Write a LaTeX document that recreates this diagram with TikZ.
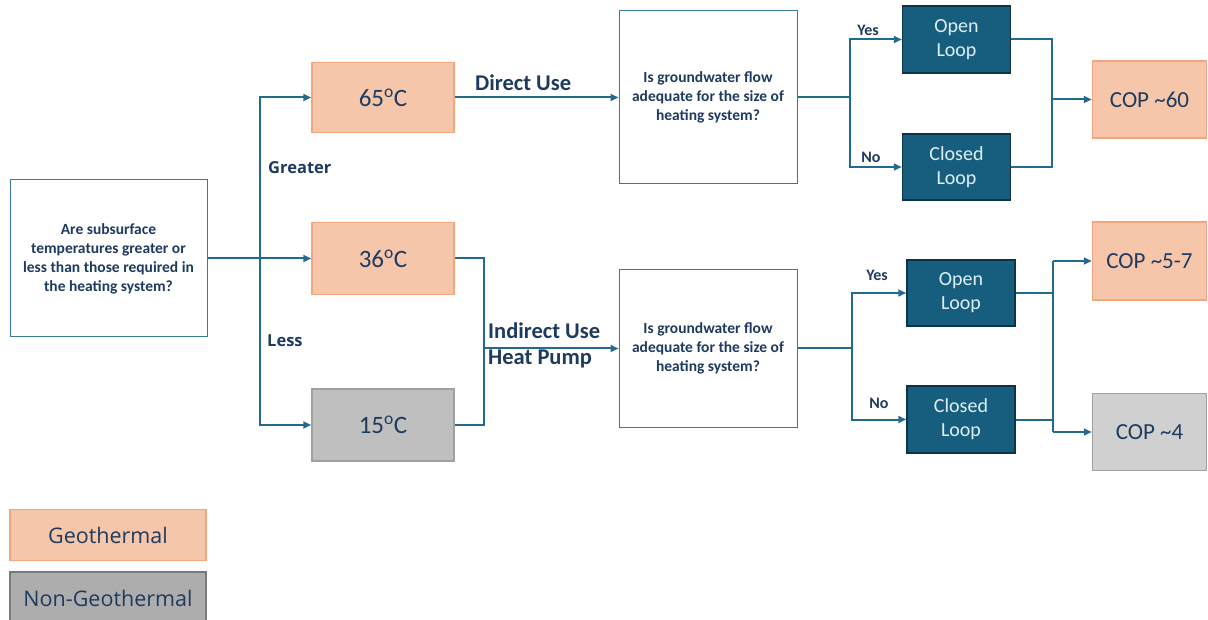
\documentclass[tikz,border=0pt]{standalone}
\usepackage{fontspec}
\setmainfont{Carlito}
\newfontfamily\legf{Open Sans}
\usetikzlibrary{arrows.meta}
\definecolor{ln}{RGB}{35,107,142}
\definecolor{txt}{RGB}{31,58,95}
\definecolor{orf}{RGB}{246,198,171}
\definecolor{ord}{RGB}{242,167,127}
\definecolor{grf}{RGB}{191,191,191}
\definecolor{grd}{RGB}{160,160,160}
\definecolor{lgf}{RGB}{208,208,208}
\definecolor{dkf}{RGB}{23,94,126}
\definecolor{dkd}{RGB}{13,51,70}
\definecolor{qbd}{RGB}{58,122,153}
\definecolor{ngf}{RGB}{173,173,173}
\definecolor{ngd}{RGB}{122,122,122}
\definecolor{wt}{RGB}{221,239,247}
\begin{document}
\begin{tikzpicture}[x=1pt,y=-1pt,
  line/.style={draw=ln, line width=2pt},
  arr/.style={line, -{Triangle[length=8pt,width=7pt]}},
  qbox/.style={draw=qbd, line width=1pt, fill=white, text=txt, align=center, inner sep=0pt,
     font=\bfseries\fontsize{15.5}{19}\selectfont},
  tbox/.style={draw=ord, line width=1.5pt, fill=orf, text=txt, inner sep=0pt,
     font=\fontsize{25}{28}\selectfont, minimum width=142pt},
  gbox/.style={tbox, draw=grd, fill=grf},
  dbox/.style={draw=dkd, line width=1.5pt, fill=dkf, text=wt, align=center, inner sep=0pt,
     font=\fontsize{20}{24}\selectfont, minimum width=108pt},
  cbox/.style={tbox, minimum width=114pt, font=\fontsize{23}{26}\selectfont},
  lbl/.style={text=txt, font=\bfseries\fontsize{22.5}{26}\selectfont, inner sep=0pt},
  yn/.style={text=txt, font=\bfseries\fontsize{16}{18}\selectfont, inner sep=0pt},
  gl/.style={text=txt, font=\legf\bfseries\fontsize{16.5}{18}\selectfont, inner sep=0pt},
  leg/.style={draw=ord, line width=1.5pt, fill=orf, text=txt, inner sep=0pt,
     font=\legf\fontsize{21.5}{25}\selectfont, minimum width=196pt}
]
\useasboundingbox (0,0) rectangle (1208,620);

% nodes
\node[qbox, minimum width=197pt, minimum height=157pt] (q0) at (108.5,258.5)
  {Are subsurface\\temperatures greater or\\less than those required in\\the heating system?};
\node[tbox, minimum height=70pt] (t65) at (383,97.5) {65\textsuperscript{o}C};
\node[tbox, minimum height=72pt] (t36) at (383,258.5) {36\textsuperscript{o}C};
\node[gbox, minimum height=72pt] (t15) at (383,425) {15\textsuperscript{o}C};
\node[qbox, minimum width=178pt, minimum height=173pt] (q1) at (708,97.5)
  {Is groundwater flow\\adequate for the size of\\heating system?};
\node[qbox, minimum width=178pt, minimum height=157pt] (q2) at (708,348.5)
  {Is groundwater flow\\adequate for the size of\\heating system?};
\node[dbox, minimum height=67pt] (ol1) at (956.5,39.5) {Open\\Loop};
\node[dbox, minimum height=66pt] (cl1) at (956.5,167) {Closed\\Loop};
\node[dbox, minimum height=66pt] (ol2) at (961,293) {Open\\Loop};
\node[dbox, minimum height=67pt] (cl2) at (961,419.5) {Closed\\Loop};
\node[cbox, minimum height=77pt] (cop60) at (1149.5,99.5) {COP \textasciitilde60};
\node[cbox, minimum height=78pt] (cop57) at (1149.5,261) {COP \textasciitilde5-7};
\node[cbox, draw=grd, fill=lgf, minimum height=77pt] (cop4) at (1149.5,432) {COP \textasciitilde4};

\node[leg, minimum height=51pt] (leg1) at (108,535) {Geothermal};
\node[leg, draw=ngd, fill=ngf, minimum height=52pt] (leg2) at (108,598) {Non-Geothermal};

% labels
\node[gl, anchor=west] (lg) at (268,168) {Greater};
\node[gl, anchor=west] (ll) at (267,341) {Less};
\node[lbl, anchor=west] (ldu) at (475,83) {Direct Use};
\node[lbl, anchor=base west, align=left] (liu) at (488,339) {Indirect Use};
\node[lbl, anchor=base west, align=left] (lhp) at (488,365) {Heat Pump};
\node[yn] (y1) at (868,30) {Yes};
\node[yn] (n1) at (871,157) {No};
\node[yn] (y2) at (877,275) {Yes};
\node[yn] (n2) at (879,403) {No};

% junctions
\coordinate (j1) at (260,258.5);
\coordinate (j2) at (484,348.5);
\coordinate (j3) at (850,97.5);
\coordinate (j4) at (1052,99.5);
\coordinate (j6) at (852,348.5);
\coordinate (j5a) at (1053,261);
\coordinate (j5b) at (1053,432);

% connectors
\draw[arr] (q0.east) -- (t36.west);
\draw[arr] (j1) |- (t65.west);
\draw[arr] (j1) |- (t15.west);
\draw[arr] (t65.east) -- (q1.west);
\draw[line] (t36.east) -| (j2) |- (t15.east);
\draw[arr] (j2) -- (q2.west);
\draw[line] (q1.east) -- (j3);
\draw[arr] (j3) |- (ol1.west);
\draw[arr] (j3) |- (cl1.west);
\draw[line] (ol1.east) -| (j4) |- (cl1.east);
\draw[arr] (j4) -- (cop60.west);
\draw[line] (q2.east) -- (j6);
\draw[arr] (j6) |- (ol2.west);
\draw[arr] (j6) |- (cl2.west);
\draw[line] (ol2.east) -- (ol2.east -| j5a);
\draw[line] (cl2.east) -- (cl2.east -| j5a);
\draw[line] (j5a) -- (j5b);
\draw[arr] (j5a) -- (cop57.west);
\draw[arr] (j5b) -- (cop4.west);
\end{tikzpicture}
\end{document}
